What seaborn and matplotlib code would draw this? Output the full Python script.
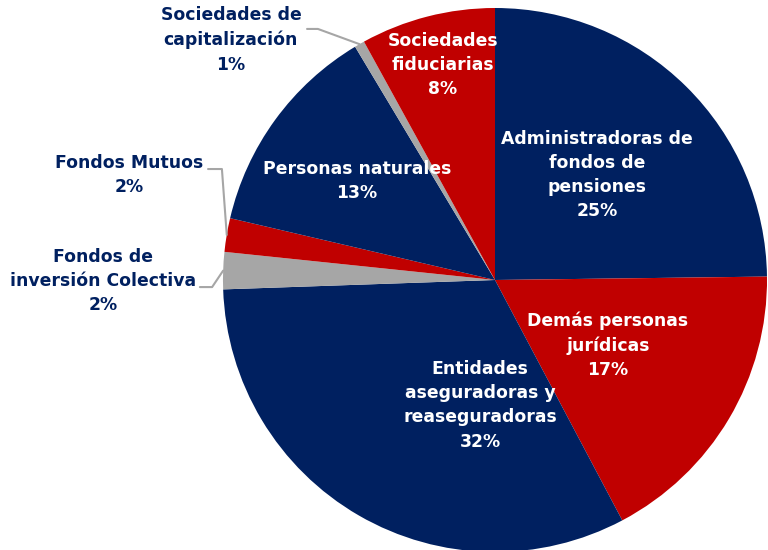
import numpy as np
import matplotlib
matplotlib.use("Agg")
import matplotlib.pyplot as plt
import seaborn as sns

# data, clockwise from 12 o'clock
categories = [
    "Administradoras de\nfondos de\npensiones",
    "Demás personas\njurídicas",
    "Entidades\naseguradoras y\nreaseguradoras",
    "Fondos de\ninversión Colectiva",
    "Fondos Mutuos",
    "Personas naturales",
    "Sociedades de\ncapitalización",
    "Sociedades\nfiduciarias",
]
shares = [24.8, 17.45, 32.2, 2.2, 2.0, 12.75, 0.6, 8.0]

NAVY = "#002060"
RED = "#C00000"
GRAY = "#A6A6A6"
colors = [NAVY, RED, NAVY, GRAY, RED, NAVY, GRAY, RED]

# label centres (data units, pie radius = 1) and whether label sits outside
label_pos = [
    (0.375, 0.386),
    (0.415, -0.239),
    (-0.055, -0.46),
    (-1.441, -0.004),
    (-1.346, 0.386),
    (-0.507, 0.364),
    (-0.971, 0.882),
    (-0.191, 0.79),
]
outside = [False, False, False, True, True, False, True, False]
# elbow of leader lines for outside labels
elbows = {
    3: [(-1.085, -0.026), (-1.040, -0.026)],
    4: [(-1.055, 0.408), (-1.004, 0.408)],
    6: [(-0.691, 0.923), (-0.651, 0.923)],
}

sns.set_theme(style="white")
plt.rcParams["font.family"] = ["DejaVu Sans"]

fig = plt.figure(figsize=(7.68, 5.5), dpi=100)
ax = fig.add_axes([0, 0, 1, 1])

wedges, _ = ax.pie(shares, colors=colors, startangle=90, counterclock=False,
                   radius=1.0, wedgeprops=dict(linewidth=0))

total = sum(shares)
for i, (cat, val) in enumerate(zip(categories, shares)):
    txt = f"{cat}\n{round(val / total * 100)}%"
    x, y = label_pos[i]
    ax.text(x, y, txt, ha="center", va="center", fontsize=12.4,
            fontweight="bold", color=NAVY if outside[i] else "white",
            linespacing=1.45)
    if outside[i]:
        w = wedges[i]
        mid = np.deg2rad((w.theta1 + w.theta2) / 2)
        pts = elbows[i] + [(np.cos(mid), np.sin(mid))]
        xs, ys = zip(*pts)
        ax.plot(xs, ys, color=GRAY, lw=1.5)

ax.set_xlim(-495 / 272, (768 - 495) / 272)
ax.set_ylim(-(550 - 280) / 272, 280 / 272)
ax.set_aspect("equal")
ax.axis("off")

fig.savefig("out.png", dpi=100)
